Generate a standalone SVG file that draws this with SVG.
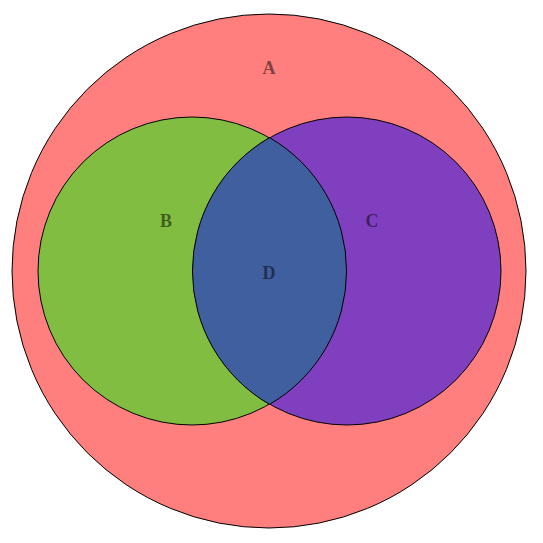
<svg xmlns="http://www.w3.org/2000/svg" width="543" height="543" viewBox="0 0 543 543">
<style>
circle{stroke:#000;stroke-width:1}
text{font-family:"Liberation Serif",serif;font-weight:bold;font-size:18px;text-anchor:middle;fill:#000;fill-opacity:0.5}
</style>
<rect width="543" height="543" fill="#fff"/>
<g id="A"><circle cx="269" cy="271" r="257" fill="#ff7f7f"/><text x="269" y="74">A</text></g>
<g id="B"><circle cx="192" cy="271" r="154" fill="#80bd40"/><text x="166" y="227">B</text></g>
<g id="C"><circle cx="347" cy="271" r="154" fill="#803fbf"/><text x="372" y="227">C</text></g>
<g id="D"><path d="M269.5 137.6 A154 154 0 0 1 269.5 404.4 A154 154 0 0 1 269.5 137.6 Z" fill="#3f5f9f" stroke="#000"/><text x="269" y="279">D</text></g>
</svg>
